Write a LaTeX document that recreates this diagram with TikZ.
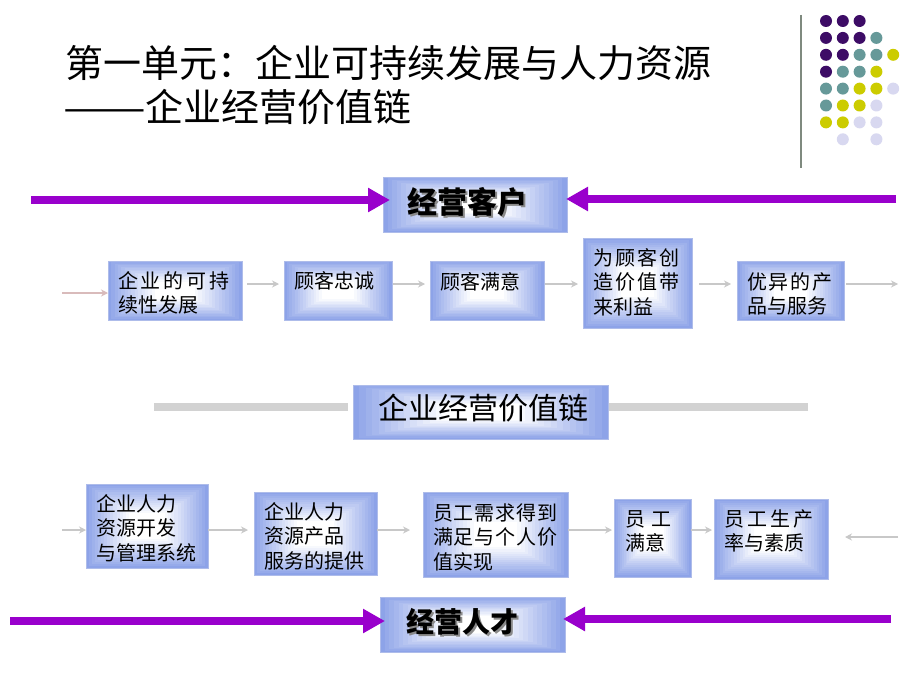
\documentclass[tikz,border=0pt]{standalone}
\usepackage{fontspec}
\usepackage{graphicx}
\setmainfont{Noto Sans CJK SC}
\usetikzlibrary{arrows.meta,calc}
\definecolor{boxblue}{HTML}{8DA3E8}
\definecolor{boxedge}{HTML}{AEBCEA}
\definecolor{arrowpurple}{HTML}{9900CC}
\definecolor{dotP}{HTML}{3D0C66}
\definecolor{dotT}{HTML}{669999}
\definecolor{dotY}{HTML}{CCCC00}
\definecolor{dotL}{HTML}{D8D8F0}
\definecolor{arrowgray}{HTML}{C8C8C8}
\definecolor{arrowpink}{HTML}{D9BBBB}
\definecolor{bandgray}{HTML}{D2D2D2}
\definecolor{vlinegray}{HTML}{7F8A7F}
\definecolor{shadowgray}{HTML}{8A8A8A}
\newcommand{\bxc}[5]{\parbox[c][#2pt][t]{#1pt}{\parindent=0pt\leftskip=#3pt\rightskip=0pt plus 1fil\baselineskip=24.5pt\lineskiplimit=-100pt\lineskip=0pt\rule{0pt}{#4pt}#5\par}}
\newcommand{\jl}[2]{\makebox[#1pt][l]{#2}}
\newcommand{\shtext}[1]{\rlap{\textcolor{shadowgray}{\raisebox{-2pt}{\hspace*{2pt}#1}}}#1}
\tikzset{
  gradbox/.style={draw=boxedge, line width=0.8pt, inner sep=0pt, outer sep=0pt, anchor=north west,
    path picture={
      \foreach \i in {0,...,14}{
        \pgfmathsetmacro\f{1-\i/20}
        \pgfmathtruncatemacro\p{100-100*\i/14}
        \fill[boxblue!\p!white] ($(path picture bounding box.center)!\f!(path picture bounding box.south west)$) rectangle ($(path picture bounding box.center)!\f!(path picture bounding box.north east)$);
      }}},
  smalltext/.style={font=\fontsize{20pt}{24.5pt}\selectfont},
  bigarrow/.style={draw=arrowpurple, line width=8pt, -{Triangle[length=22pt,width=23pt]}},
  thinarrow/.style={draw=arrowgray, line width=1.6pt, -{Stealth[length=7pt,width=7pt]}},
  band/.style={draw=bandgray, line width=8pt},
  titletext/.style={anchor=base west, inner sep=0pt, font=\fontsize{38pt}{44pt}\selectfont}
}
\begin{document}
\begin{tikzpicture}[x=1pt,y=-1pt]
\useasboundingbox[fill=white] (0,0) rectangle (920,690);

% title
\node[titletext] (title1) at (65,77.4) {第一单元：企业可持续发展与人力资源};
\node[titletext] (title2) at (63,121.4) {\scalebox{1.3}[1]{——}企业经营价值链};

% decoration
\draw[line width=2pt, vlinegray] (801,15) -- (801,168);
\foreach \cc/\rr/\col in {0/0/dotP,1/0/dotP,2/0/dotP,
  0/1/dotP,1/1/dotP,2/1/dotP,3/1/dotT,
  0/2/dotP,1/2/dotP,2/2/dotT,3/2/dotT,4/2/dotY,
  0/3/dotP,1/3/dotT,2/3/dotT,3/3/dotY,
  0/4/dotT,1/4/dotT,2/4/dotY,3/4/dotY,4/4/dotL,
  0/5/dotT,1/5/dotY,2/5/dotY,3/5/dotL,
  0/6/dotY,1/6/dotY,2/6/dotL,3/6/dotL,
  1/7/dotL,3/7/dotL}
  \fill[\col] ({826+16.8*\cc},{21+16.9*\rr}) circle (6);

% big labels
\node[gradbox, font=\fontsize{30pt}{36pt}\bfseries\selectfont] (kehu) at (383,177) {\bxc{184}{55}{24}{36}{\shtext{经营客户}}};
\node[gradbox, font=\fontsize{30pt}{36pt}\selectfont] (mid) at (353,385) {\bxc{255}{54}{25}{34.4}{企业经营价值链}};
\node[gradbox, font=\fontsize{28pt}{34pt}\bfseries\selectfont] (rencai) at (380,597) {\bxc{185}{55}{26}{35.3}{\shtext{经营人才}}};

% row 1
\node[gradbox, smalltext] (b1) at (108,261) {\bxc{134}{59}{10}{27}{\jl{112}{企\hfill 业\hfill 的\hfill 可\hfill 持}\\续性发展}};
\node[gradbox, smalltext] (b2) at (284,261) {\bxc{108}{59}{10}{27}{顾客忠诚}};
\node[gradbox, smalltext] (b3) at (430,261) {\bxc{114}{59}{10}{28}{顾客满意}};
\node[gradbox, smalltext] (b4) at (583,238) {\bxc{109}{90}{10}{27}{\jl{87}{为\hfill 顾\hfill 客\hfill 创}\\\jl{87}{造\hfill 价\hfill 值\hfill 带}\\来利益}};
\node[gradbox, smalltext] (b5) at (737,261) {\bxc{107}{59}{10}{28}{\jl{86}{优\hfill 异\hfill 的\hfill 产}\\品与服务}};

% row 2
\node[gradbox, smalltext] (a1) at (86,484) {\bxc{122}{84}{10}{27}{企业人力\\资源开发\\与管理系统}};
\node[gradbox, smalltext] (a2) at (254,492) {\bxc{123}{83}{10}{27}{企业人力\\资源产品\\服务的提供}};
\node[gradbox, smalltext] (a3) at (423,492) {\bxc{145}{85}{10}{28}{\jl{125}{员\hfill 工\hfill 需\hfill 求\hfill 得\hfill 到}\\\jl{125}{满\hfill 足\hfill 与\hfill 个\hfill 人\hfill 价}\\值实现}};
\node[gradbox, smalltext] (a4) at (614,499) {\bxc{77}{78}{11}{27}{\jl{47}{员\hfill 工}\\满意}};
\node[gradbox, smalltext] (a5) at (714,499) {\bxc{114}{80}{10}{27}{\jl{90}{员\hfill 工\hfill 生\hfill 产}\\率与素质}};

% purple arrows
\coordinate (tl) at (31,200);
\coordinate (tr) at (896,199);
\coordinate (bl) at (10,621);
\coordinate (br) at (891,619);
\draw[bigarrow, shorten >=-7pt] (tl) -- (tl -| kehu.west);
\draw[bigarrow, shorten >=-1pt] (tr) -- (tr -| kehu.east);
\draw[bigarrow, shorten >=-5pt] (bl) -- (bl -| rencai.west);
\draw[bigarrow, shorten >=-2pt] (br) -- (br -| rencai.east);

% gray bands
\coordinate (gl) at (154,407);
\coordinate (gr) at (808,407);
\draw[band, shorten >=5pt] (gl) -- (gl -| mid.west);
\draw[band, shorten >=1pt] (gr) -- (gr -| mid.east);

% row 1 thin arrows
\coordinate (r1) at (0,284);
\coordinate (s1) at (62,293);
\coordinate (e1) at (898,284);
\draw[thinarrow, draw=arrowpink] (s1) -- (s1 -| b1.west);
\draw[thinarrow, shorten <=5pt, shorten >=5pt] (b1.east |- r1) -- (b2.west |- r1);
\draw[thinarrow, shorten <=1pt, shorten >=5pt] (b2.east |- r1) -- (b3.west |- r1);
\draw[thinarrow, shorten <=1pt, shorten >=5pt] (b3.east |- r1) -- (b4.west |- r1);
\draw[thinarrow, shorten <=7pt, shorten >=6pt] (b4.east |- r1) -- (b5.west |- r1);
\draw[thinarrow, shorten <=2pt] (b5.east |- r1) -- (e1);

% row 2 thin arrows
\coordinate (r2) at (0,530);
\coordinate (s2) at (62,530);
\coordinate (e2) at (898,537);
\draw[thinarrow] (s2) -- (s2 -| a1.west);
\draw[thinarrow, shorten >=6pt] (a1.east |- r2) -- (a2.west |- r2);
\draw[thinarrow, shorten >=13pt] (a2.east |- r2) -- (a3.west |- r2);
\draw[thinarrow, shorten >=2pt] (a3.east |- r2) -- (a4.west |- r2);
\draw[thinarrow, shorten >=2pt] (a4.east |- r2) -- (a5.west |- r2);
\draw[thinarrow, shorten >=17pt] (e2) -- (e2 -| a5.east);
\end{tikzpicture}
\end{document}
